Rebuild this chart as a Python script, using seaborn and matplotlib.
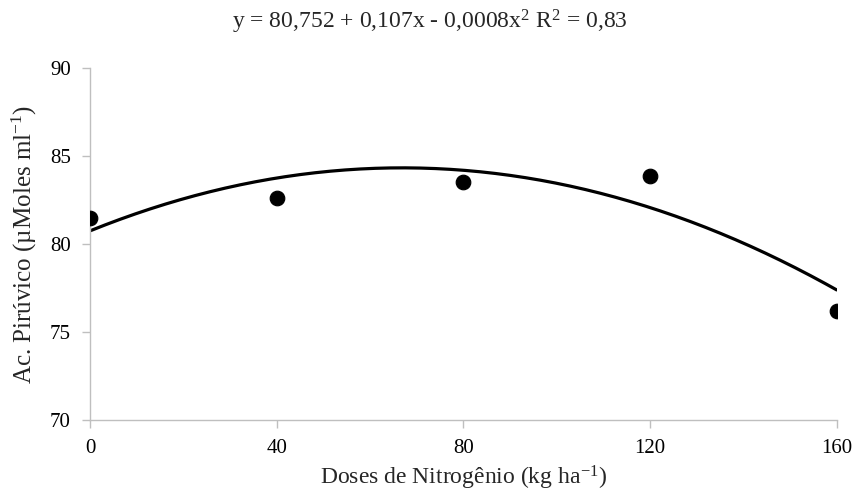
import numpy as np
import matplotlib
matplotlib.use("Agg")
import matplotlib.pyplot as plt
import seaborn as sns

doses = [0, 40, 80, 120, 160]
piruvico = [81.5, 82.6, 83.5, 83.85, 76.2]

# quadratic fit as printed above the chart: y = c0 + c1*x + c2*x^2
coef = [80.752, 0.107, -0.0008]
x_ticks = [0, 40, 80, 120, 160]
y_ticks = [70, 75, 80, 85, 90]

sns.set_style("white")
plt.rcParams["font.family"] = ["Liberation Serif", "DejaVu Serif"]
plt.rcParams["mathtext.fontset"] = "custom"
plt.rcParams["mathtext.rm"] = "Liberation Serif"
plt.rcParams["mathtext.it"] = "Liberation Serif:italic"

fig = plt.figure(figsize=(8.59, 4.97), dpi=100)
ax = fig.add_axes([0.105, 0.155, 0.869, 0.708])

# trend line over the dose range
xs = np.linspace(doses[0], doses[-1], 200)
ys = np.polyval(coef[::-1], xs)
sns.lineplot(x=xs, y=ys, ax=ax, color="black", lw=2.3)
sns.scatterplot(x=doses, y=piruvico, ax=ax, color="black", s=110,
                edgecolor="black", zorder=3)

ax.set_xlim(0, 160)
ax.set_ylim(70, 90)
ax.set_xticks(x_ticks)
ax.set_yticks(y_ticks)
ax.tick_params(axis="both", labelsize=15, colors="#bfbfbf",
               labelcolor="black", length=6, width=1, direction="out",
               left=True, bottom=True)
ax.tick_params(axis="x", pad=8)
ax.tick_params(axis="y", pad=8)

for side in ["top", "right"]:
    ax.spines[side].set_visible(False)
for side in ["left", "bottom"]:
    ax.spines[side].set_color("#bfbfbf")
    ax.spines[side].set_linewidth(1)

ax.set_xlabel(r"Doses de Nitrogênio (kg ha$^{-1}$)", fontsize=17,
              labelpad=4)
ax.set_ylabel(r"Ac. Pirúvico (µMoles ml$^{-1}$)", fontsize=18,
              labelpad=8)

fig.suptitle(r"y = 80,752 + 0,107x - 0,0008x$^{2}$ R$^{2}$ = 0,83",
             x=0.5, y=0.985, fontsize=17)

fig.savefig("out.png", dpi=100)
